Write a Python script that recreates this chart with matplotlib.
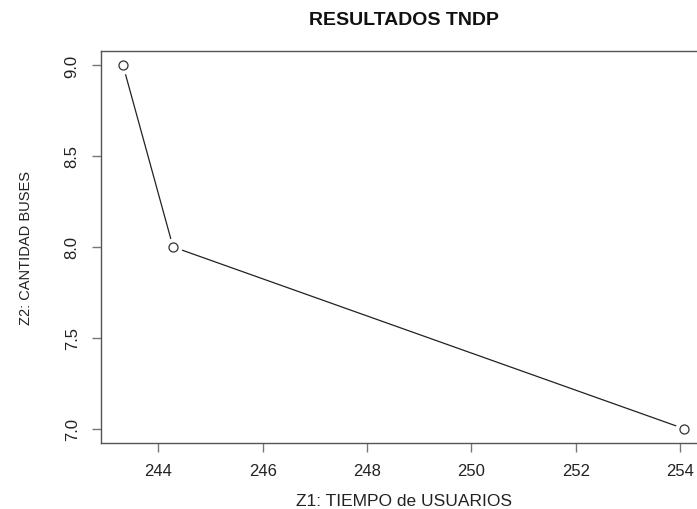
import matplotlib
matplotlib.use("Agg")
from matplotlib import pyplot as plt

# Data
tiempo_usuarios = [243.32, 244.28, 254.08]
cantidad_buses = [9, 8, 7]
x_ticks = [244, 246, 248, 250, 252, 254]
y_ticks = [7.0, 7.5, 8.0, 8.5, 9.0]

plt.rcParams['font.family'] = ['Liberation Sans', 'DejaVu Sans']

fig = plt.figure(figsize=(6.97, 5.10), dpi=100)
# axes runs past the right edge, like the cropped original
ax = fig.add_axes([0.1442, 0.1288, 0.8696, 0.7702])

# R-like type="b": line, white gap, then open circles
ax.plot(tiempo_usuarios, cantidad_buses, color='#222222', linewidth=0.9, zorder=2)
ax.plot(tiempo_usuarios, cantidad_buses, linestyle='none', marker='o', markersize=12,
        markerfacecolor='white', markeredgecolor='white', zorder=3)
ax.plot(tiempo_usuarios, cantidad_buses, linestyle='none', marker='o', markersize=6.5,
        markerfacecolor='white', markeredgecolor='#333333', markeredgewidth=0.9, zorder=4)

# 4% padding like R
xr = max(tiempo_usuarios) - min(tiempo_usuarios)
yr = max(cantidad_buses) - min(cantidad_buses)
ax.set_xlim(min(tiempo_usuarios) - 0.04 * xr, max(tiempo_usuarios) + 0.04 * xr)
ax.set_ylim(min(cantidad_buses) - 0.04 * yr, max(cantidad_buses) + 0.04 * yr)

ax.set_xticks(x_ticks)
ax.set_xticklabels([str(t) for t in x_ticks])
ax.set_yticks(y_ticks)
ax.set_yticklabels(['%.1f' % t for t in y_ticks], rotation=90, va='center')

for s in ax.spines.values():
    s.set_color('#555555')
    s.set_linewidth(1.0)
ax.tick_params(axis='both', direction='out', length=6.5, width=1.0, color='#777777',
               labelcolor='#222222')
ax.tick_params(axis='x', pad=7.7, labelsize=12)
ax.tick_params(axis='y', pad=8.5, labelsize=12)

fig.text(0.579, 0.951, 'RESULTADOS TNDP', ha='center', va='baseline',
         fontsize=14, fontweight='bold', color='#111111')
fig.text(0.579, 0.008, 'Z1: TIEMPO de USUARIOS', ha='center', va='baseline',
         fontsize=12.5, color='#222222')
fig.text(0.0373, 0.514, 'Z2: CANTIDAD BUSES', ha='center', va='center',
         rotation=90, fontsize=10.5, color='#222222')

fig.savefig('out.png', dpi=100)
